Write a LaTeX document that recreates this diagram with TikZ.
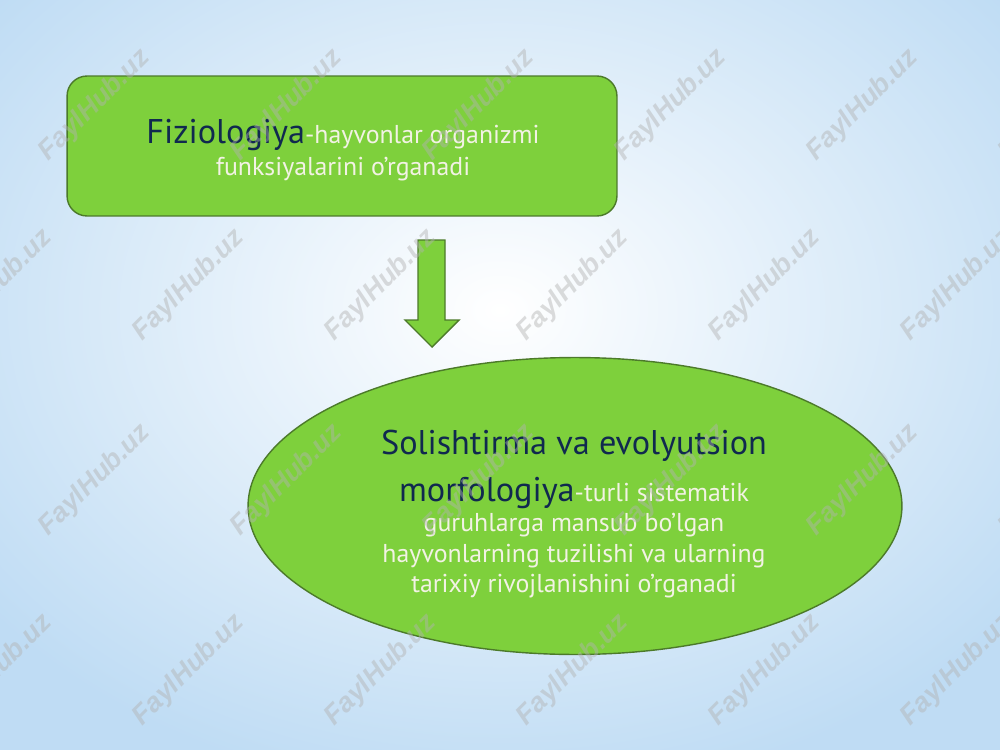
\documentclass[tikz,border=0pt]{standalone}
\usepackage{fontspec}
\setmainfont{PT Sans}
\newfontfamily\wmfont{Liberation Sans}
\usetikzlibrary{shapes.geometric}

\definecolor{leafgreen}{HTML}{7ED03C}
\definecolor{leafedge}{HTML}{4C7A2A}
\definecolor{navytext}{HTML}{10294F}
\definecolor{paletext}{HTML}{F2F2E4}
\definecolor{skyblue}{HTML}{BFDCF4}

\newcommand{\headword}[1]{{\color{navytext}\fontsize{19.5}{22}\selectfont #1}}

\tikzset{
  greenshape/.style={draw=leafedge, fill=leafgreen, line width=0.8pt},
  bodytext/.style={text=paletext, align=center, font=\fontsize{14.7}{18}\selectfont},
  watermark/.style={text=gray!60, opacity=0.45, rotate=45,
    font=\wmfont\bfseries\itshape\fontsize{15.5}{15.5}\selectfont}
}

\begin{document}
\begin{tikzpicture}[x=0.02cm, y=-0.02cm]
    \useasboundingbox (0,0) rectangle (1000,750);
    \clip (0,0) rectangle (1000,750);
    \shade[inner color=white, outer color=skyblue] (-150,-180) rectangle (1150,800);

    % top box
    \node[greenshape, rounded corners=0.4cm, minimum width=11cm, minimum height=2.8cm]
        (fizio) at (342,146) {};
    \node[bodytext] (fiziotext) at (343,150)
        {\headword{Fiziologiya}-hayvonlar organizmi\\ funksiyalarini o’rganadi};

    % arrow
    \draw[greenshape] (418,240) -- (445,240) -- (445,320) -- (459,320)
        -- (432,347) -- (405,320) -- (418,320) -- cycle;

    % ellipse
    \node[greenshape, ellipse, inner sep=0pt, minimum width=13.08cm, minimum height=5.94cm]
        (morfo) at (575,506) {};
    \node[bodytext, font=\fontsize{14.7}{17.4}\selectfont] (morfotext) at (574,514)
        {\headword{Solishtirma va evolyutsion}\\[8pt]
         \headword{morfologiya}-turli sistematik\\
         guruhlarga mansub bo’lgan\\
         hayvonlarning tuzilishi va ularning\\
         tarixiy rivojlanishini o’rganadi};

    % watermarks
    \foreach \r/\yy/\xs in {1/105/95, 2/285/-3, 3/480/95, 4/670/-3}
        \foreach \c in {0,...,5}
            \node[watermark] (wm\r\c) at (\xs+192*\c,\yy) {FaylHub.uz};
\end{tikzpicture}
\end{document}
